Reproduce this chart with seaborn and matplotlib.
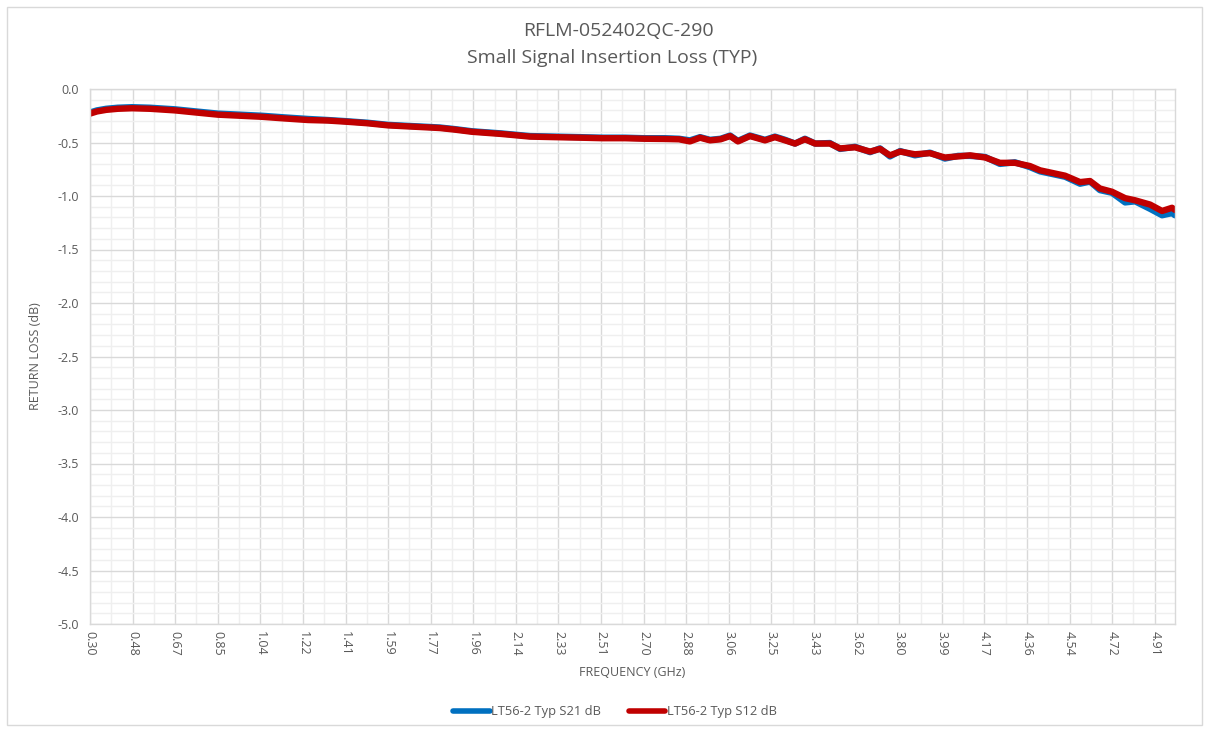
import numpy as np
import pandas as pd
import matplotlib
matplotlib.use("Agg")
import matplotlib.pyplot as plt
import seaborn as sns
from matplotlib.ticker import MultipleLocator, FixedLocator

# frequency points (GHz)
freq = [0.300, 0.330, 0.370, 0.420, 0.482, 0.560, 0.668, 0.760, 0.854, 0.950,
        1.045, 1.140, 1.244, 1.330, 1.404, 1.500, 1.590, 1.680, 1.772, 1.815,
        1.880, 1.954, 2.080, 2.205, 2.310, 2.421, 2.520, 2.616, 2.700, 2.789,
        2.850, 2.897, 2.941, 2.984, 3.030, 3.071, 3.105, 3.157, 3.222, 3.265,
        3.309, 3.352, 3.395, 3.439, 3.503, 3.547, 3.612, 3.677, 3.720, 3.763,
        3.807, 3.871, 3.936, 4.001, 4.058, 4.110, 4.175, 4.239, 4.304, 4.369,
        4.413, 4.456, 4.521, 4.586, 4.629, 4.672, 4.724, 4.781, 4.824, 4.889,
        4.941, 4.984, 4.997]

s12 = [-0.23, -0.21, -0.195, -0.185, -0.18, -0.185, -0.20, -0.22, -0.24, -0.25,
       -0.26, -0.275, -0.29, -0.295, -0.305, -0.32, -0.34, -0.35, -0.36, -0.365,
       -0.38, -0.40, -0.42, -0.445, -0.45, -0.455, -0.46, -0.46, -0.465, -0.467,
       -0.47, -0.49, -0.455, -0.48, -0.47, -0.44, -0.49, -0.44, -0.48, -0.45,
       -0.48, -0.51, -0.47, -0.51, -0.51, -0.555, -0.545, -0.585, -0.56, -0.62,
       -0.585, -0.61, -0.60, -0.64, -0.63, -0.62, -0.64, -0.69, -0.69, -0.72,
       -0.76, -0.78, -0.81, -0.87, -0.86, -0.93, -0.96, -1.02, -1.04, -1.08,
       -1.14, -1.11, -1.13]

s21 = [-0.22, -0.20, -0.185, -0.175, -0.17, -0.175, -0.19, -0.21, -0.23, -0.24,
       -0.25, -0.265, -0.28, -0.29, -0.30, -0.315, -0.335, -0.345, -0.355, -0.36,
       -0.375, -0.395, -0.415, -0.44, -0.445, -0.45, -0.455, -0.455, -0.46, -0.46,
       -0.465, -0.48, -0.45, -0.475, -0.465, -0.435, -0.485, -0.435, -0.475, -0.445,
       -0.475, -0.51, -0.465, -0.51, -0.505, -0.56, -0.54, -0.59, -0.555, -0.63,
       -0.58, -0.62, -0.595, -0.65, -0.625, -0.625, -0.635, -0.70, -0.685, -0.73,
       -0.77, -0.79, -0.82, -0.885, -0.865, -0.945, -0.97, -1.06, -1.05, -1.12,
       -1.18, -1.16, -1.18]

series_names = ["LT56-2 Typ S21 dB", "LT56-2 Typ S12 dB"]
series_colors = ["#0070C0", "#C00000"]

x_labels = ["0.30", "0.48", "0.67", "0.85", "1.04", "1.22", "1.41", "1.59", "1.77",
            "1.96", "2.14", "2.33", "2.51", "2.70", "2.88", "3.06", "3.25", "3.43",
            "3.62", "3.80", "3.99", "4.17", "4.36", "4.54", "4.72", "4.91"]

title_lines = ["RFLM-052402QC-290", "Small Signal Insertion Loss (TYP)"]

df = pd.concat([
    pd.DataFrame({"freq": freq, "val": s21, "series": series_names[0]}),
    pd.DataFrame({"freq": freq, "val": s12, "series": series_names[1]}),
])

sns.set_style("white")
plt.rcParams["font.family"] = ["Open Sans", "DejaVu Sans"]
txt = "#595959"
grid_major = "#d9d9d9"
grid_minor = "#efefef"

fig = plt.figure(figsize=(12.09, 7.32), dpi=100)
ax = fig.add_axes([90 / 1209, 1 - 624 / 732, 1085 / 1209, 535 / 732])

sns.lineplot(data=df, x="freq", y="val", hue="series", palette=series_colors,
             linewidth=4.6, ax=ax, legend=False, sort=False)

# x axis: ticks every 0.184375 GHz like the Excel category axis
step = 0.184375
xt = [0.30 + i * step for i in range(len(x_labels))]
ax.set_xlim(0.30, 0.30 + 1085 / 231)
ax.xaxis.set_major_locator(FixedLocator(xt))
ax.xaxis.set_minor_locator(FixedLocator([v + step / 2 for v in xt]))
ax.set_xticklabels(x_labels, rotation=-90, fontsize=9, color=txt)

ax.set_ylim(-5, 0)
ax.yaxis.set_minor_locator(MultipleLocator(0.1))
ax.set_yticks(np.arange(-5, 0.01, 0.5))
ax.set_yticklabels([f"{v:.1f}".replace("-0.0", "0.0") for v in np.arange(-5, 0.01, 0.5)],
                   fontsize=9, color=txt)

ax.grid(which="major", color=grid_major, linewidth=1)
ax.grid(which="minor", color=grid_minor, linewidth=1)
ax.set_axisbelow(True)
ax.tick_params(axis="x", which="both", length=0, pad=5)
ax.tick_params(axis="y", which="major", length=0, pad=8)
ax.tick_params(axis="y", which="minor", length=4, color=grid_major, direction="out")
for sp in ax.spines.values():
    sp.set_color(grid_major)
    sp.set_linewidth(1)

ax.set_xlabel("FREQUENCY (GHz)", fontsize=9, color=txt, labelpad=7)
ax.set_ylabel("RETURN LOSS (dB)", fontsize=9, color=txt, labelpad=11)

fig.text(618 / 1209, 1 - 31 / 732, title_lines[0], ha="center", va="center",
         fontsize=14, color=txt)
fig.text(612 / 1209, 1 - 58 / 732, title_lines[1], ha="center", va="center",
         fontsize=14, color=txt)

handles = [plt.Line2D([], [], color=c, linewidth=4) for c in series_colors]
fig.legend(handles, series_names, loc="center", bbox_to_anchor=(615 / 1209, 1 - 712 / 732),
           ncol=2, frameon=False, fontsize=9.3, handlelength=2.8, handletextpad=0.1,
           columnspacing=2.2, labelcolor=txt)

fig.add_artist(plt.Rectangle((7 / 1209, 7 / 732), 1 - 14 / 1209, 1 - 14 / 732,
                             transform=fig.transFigure, fill=False,
                             edgecolor="#d9d9d9", linewidth=1))

fig.savefig("out.png", dpi=100, facecolor="white")
